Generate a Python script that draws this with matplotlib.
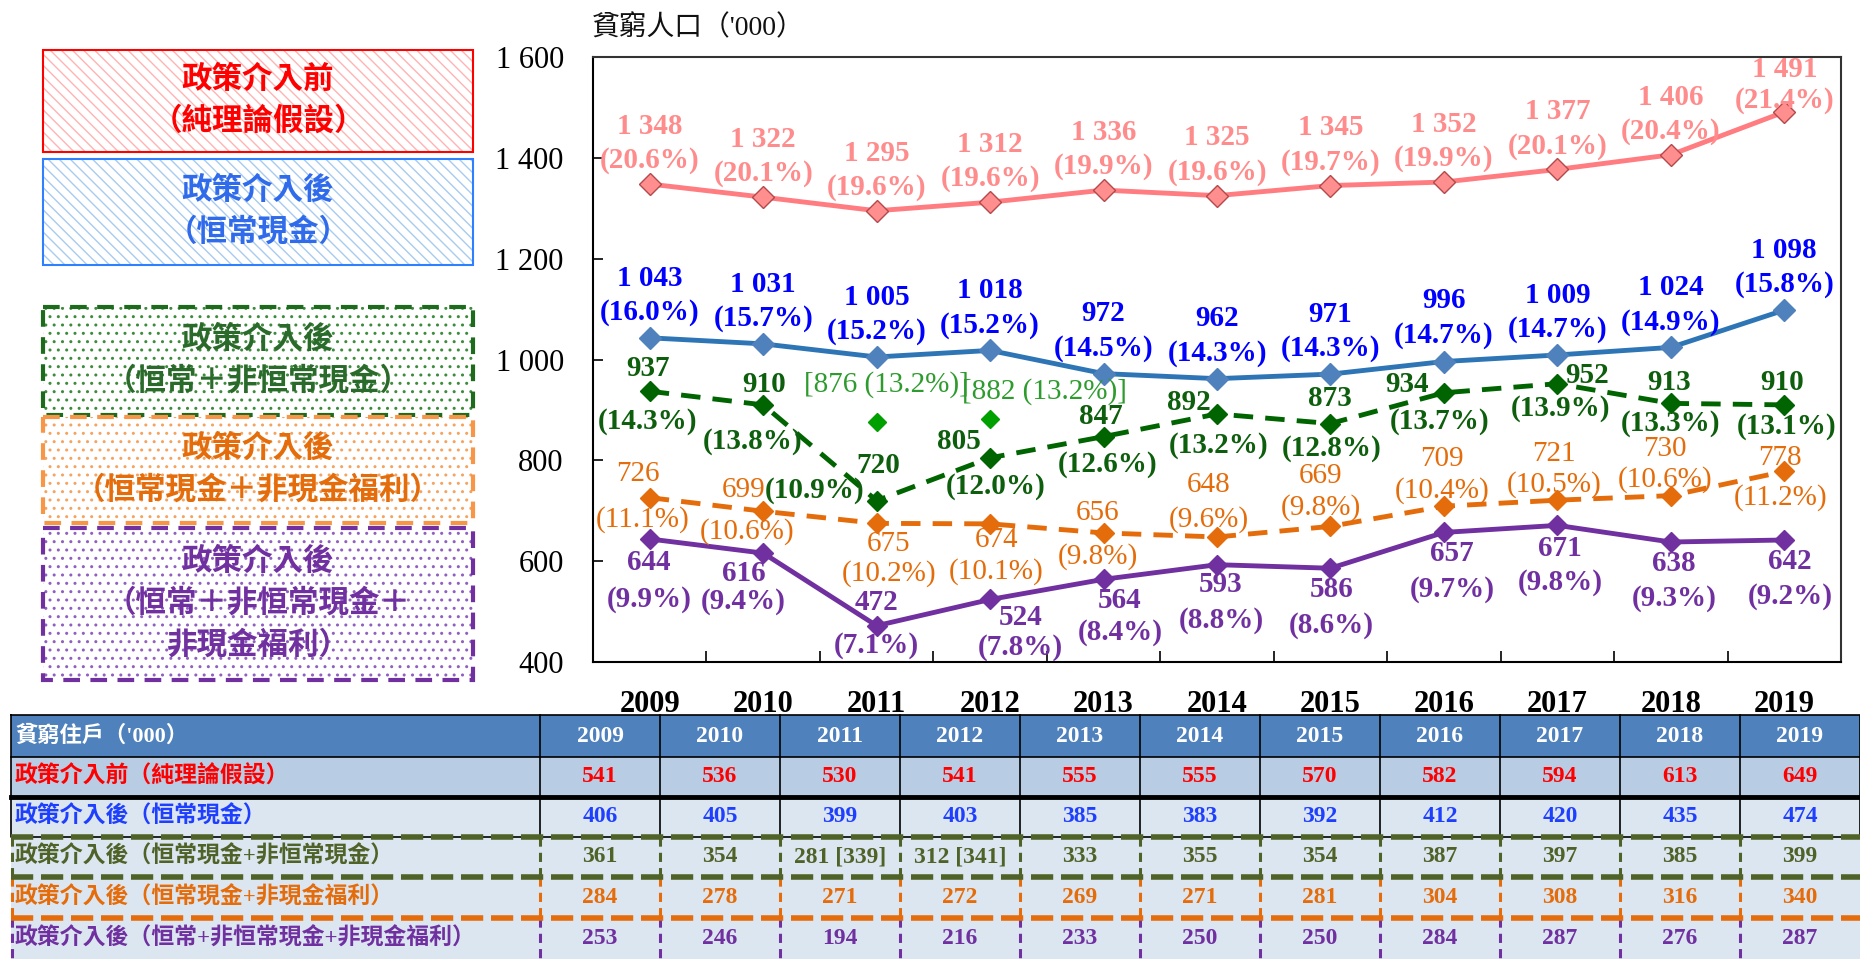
import matplotlib
matplotlib.use('Agg')
import matplotlib.pyplot as plt
from matplotlib.patches import Rectangle
import numpy as np

plt.rcParams['font.family'] = ['Liberation Serif', 'Noto Sans CJK TC']
plt.rcParams['hatch.linewidth'] = 1.0

# ---------------- data ----------------
years = [2009, 2010, 2011, 2012, 2013, 2014, 2015, 2016, 2017, 2018, 2019]

pre_intervention = [1348, 1322, 1295, 1312, 1336, 1325, 1345, 1352, 1377, 1406, 1491]
pre_rate = [20.6, 20.1, 19.6, 19.6, 19.9, 19.6, 19.7, 19.9, 20.1, 20.4, 21.4]

recurrent_cash = [1043, 1031, 1005, 1018, 972, 962, 971, 996, 1009, 1024, 1098]
recurrent_rate = [16.0, 15.7, 15.2, 15.2, 14.5, 14.3, 14.3, 14.7, 14.7, 14.9, 15.8]

all_cash = [937, 910, 720, 805, 847, 892, 873, 934, 952, 913, 910]
all_cash_rate = [14.3, 13.8, 10.9, 12.0, 12.6, 13.2, 12.8, 13.7, 13.9, 13.3, 13.1]

alt_years = [2011, 2012]
alt_all_cash = [876, 882]
alt_all_cash_rate = [13.2, 13.2]

inkind = [726, 699, 675, 674, 656, 648, 669, 709, 721, 730, 778]
inkind_rate = [11.1, 10.6, 10.2, 10.1, 9.8, 9.6, 9.8, 10.4, 10.5, 10.6, 11.2]

all_measures = [644, 616, 472, 524, 564, 593, 586, 657, 671, 638, 642]
all_measures_rate = [9.9, 9.4, 7.1, 7.8, 8.4, 8.8, 8.6, 9.7, 9.8, 9.3, 9.2]

y_ticks = [400, 600, 800, 1000, 1200, 1400, 1600]
axis_title = "貧窮人口（'000）"

legend_texts = [
    ['政策介入前', '（純理論假設）'],
    ['政策介入後', '（恒常現金）'],
    ['政策介入後', '（恒常＋非恒常現金）'],
    ['政策介入後', '（恒常現金＋非現金福利）'],
    ['政策介入後', '（恒常＋非恒常現金＋', '非現金福利）'],
]

table_title = "貧窮住戶（'000）"
table_rows = [
    '政策介入前（純理論假設）',
    '政策介入後（恒常現金）',
    '政策介入後（恒常現金+非恒常現金）',
    '政策介入後（恒常現金+非現金福利）',
    '政策介入後（恒常+非恒常現金+非現金福利）',
]
hh_pre = ['541', '536', '530', '541', '555', '555', '570', '582', '594', '613', '649']
hh_recurrent = ['406', '405', '399', '403', '385', '383', '392', '412', '420', '435', '474']
hh_all_cash = ['361', '354', '281 [339]', '312 [341]', '333', '355', '354', '387', '397', '385', '399']
hh_inkind = ['284', '278', '271', '272', '269', '271', '281', '304', '308', '316', '340']
hh_all = ['253', '246', '194', '216', '233', '250', '250', '284', '287', '276', '287']
hh_table = [hh_pre, hh_recurrent, hh_all_cash, hh_inkind, hh_all]

# ---------------- label offsets (pixels: dx_val, dy_val, dx_pct, dy_pct) ----------------
red_offsets = [(0, 54, 0, 27)] * 10 + [(0, 39, 0, 15)]
blue_offsets = [(0, 56, 0, 29)] * 7 + [(0, 57, 0, 30)] + [(0, 56, 0, 29)] * 3
green_offsets = [(-2, 23, -2, -30), (1, 20, -11, -37), (2, 35, -62, 10), (-31, 16, 6, -29),
                 (-3, 20, 4, -28), (-28, 11, 2, -32), (-1, 25, 1, -25), (-37, 8, -4, -29),
                 (30, 8, 3, -25), (-2, 21, 0, -20), (-2, 22, 2, -22)]
alt_offsets = [(10, 37), (54, 27)]
orange_offsets = [(-12, 24, -7, -22), (-20, 21, -16, -20), (12, -24, 12, -47), (6, -20, 6, -45),
                  (-6, 20, -6, -24), (-8, 49, -8, 20), (-11, 47, -9, 22), (-2, 44, -2, 19),
                  (-3, 43, -3, 19), (-4, 43, -8, 19), (-4, 13, -4, -26)]
purple_offsets = [(-1, -27, -1, -57), (-21, -24, -18, -45), (0, 23, 0, -20), (31, -22, 30, -44),
                  (16, -25, 17, -50), (4, -24, 4, -52), (1, -25, 1, -54), (8, -25, 8, -53),
                  (3, -27, 3, -53), (3, -25, 3, -53), (6, -25, 6, -53)]


def fmt_num(v):
    return f"{v:,}".replace(',', ' ')


W, H = 1860, 959
fig = plt.figure(figsize=(W / 100, H / 100), dpi=100)

bg = fig.add_axes([0, 0, 1, 1])
bg.set_xlim(0, W)
bg.set_ylim(H, 0)
bg.axis('off')

# main axes (pixel box: left 593, right 1841, top 57, bottom 662)
L, R, T, B = 593, 1841, 57, 662
ax = fig.add_axes([L / W, 1 - B / H, (R - L) / W, (B - T) / H])
ax.set_zorder(2)
ax.patch.set_alpha(0)

x = np.arange(len(years))
LABEL_FS = 21
ASCENT_PX = 20.2  # approx. ascent of a label line in pixels at LABEL_FS

series = [
    dict(v=pre_intervention, r=pre_rate, lc='#FF7C80', ls='-', mfc='#FF8F8F', mec='#B5484A', ms=11,
         tc='#FF8C8C', fw='bold', offs=red_offsets),
    dict(v=recurrent_cash, r=recurrent_rate, lc='#2E75B6', ls='-', mfc='#4F81BD', mec='#4F81BD', ms=11,
         tc='#0000FF', fw='bold', offs=blue_offsets),
    dict(v=all_cash, r=all_cash_rate, lc='#006400', ls=(0, (4, 2.5)), mfc='#006400', mec='#006400', ms=10,
         tc='#0D5E0D', fw='bold', offs=green_offsets),
    dict(v=inkind, r=inkind_rate, lc='#E46C0A', ls=(0, (4, 2.5)), mfc='#E46C0A', mec='#E46C0A', ms=10,
         tc='#E46C0A', fw='normal', offs=orange_offsets),
    dict(v=all_measures, r=all_measures_rate, lc='#7030A0', ls='-', mfc='#7030A0', mec='#7030A0', ms=10,
         tc='#7030A0', fw='bold', offs=purple_offsets),
]


def put_label(xi, val, rate, off, color, weight):
    dxv, dyv, dxp, dyp = off
    vtxt, ptxt = fmt_num(val), f"({rate:.1f}%)"
    common = dict(textcoords='offset pixels', ha='center', va='center', fontsize=LABEL_FS,
                  color=color, fontweight=weight, zorder=5)
    if dyv * dyp > 0 and abs(dxv - dxp) <= 6:
        ax.annotate(vtxt + '\n' + ptxt, (xi, val), xytext=((dxv + dxp) / 2, (dyv + dyp) / 2),
                    multialignment='center', linespacing=abs(dyv - dyp) / ASCENT_PX, **common)
    else:
        ax.annotate(vtxt, (xi, val), xytext=(dxv, dyv), **common)
        ax.annotate(ptxt, (xi, val), xytext=(dxp, dyp), **common)


for s in series:
    ax.plot(x, s['v'], color=s['lc'], linestyle=s['ls'], lw=3.5, marker='D', ms=s['ms'],
            mfc=s['mfc'], mec=s['mec'], mew=1.0, zorder=3, clip_on=False)
    for i, (val, rate) in enumerate(zip(s['v'], s['r'])):
        put_label(x[i], val, rate, s['offs'][i], s['tc'], s['fw'])

alt_x = [years.index(yv) for yv in alt_years]
ax.plot(alt_x, alt_all_cash, linestyle='none', marker='D', ms=9, mfc='#00A000', mec='#00A000', zorder=3)
for i, (xx, val, rate) in enumerate(zip(alt_x, alt_all_cash, alt_all_cash_rate)):
    dx, dy = alt_offsets[i]
    ax.annotate(f"[{fmt_num(val)} ({rate:.1f}%)]", (xx, val), xytext=(dx, dy), textcoords='offset pixels',
                ha='center', va='center', fontsize=LABEL_FS, color='#2E9B2E', zorder=5)

ax.set_xlim(-0.5, len(years) - 0.5)
ax.set_ylim(y_ticks[0], y_ticks[-1])
ax.set_yticks(y_ticks)
ax.set_yticklabels([fmt_num(v) for v in y_ticks])
ax.tick_params(axis='y', direction='in', length=7, width=1.2, pad=21, labelsize=22)
ax.set_xticks(x)
ax.set_xticklabels([str(yv) for yv in years], fontweight='bold')
ax.tick_params(axis='x', which='major', length=0, pad=20, labelsize=22)
ax.set_xticks(np.arange(0.5, len(years) - 1, 1), minor=True)
ax.tick_params(axis='x', which='minor', direction='in', length=8, width=1.2)
for sp in ['left', 'bottom']:
    ax.spines[sp].set_linewidth(1.5)
    ax.spines[sp].set_color('black')
for sp in ['top', 'right']:
    ax.spines[sp].set_linewidth(1.5)
    ax.spines[sp].set_color('#333333')

bg.text(592, 28, axis_title, fontsize=20, ha='left', va='center', color='#111111')

# ---------------- legend boxes ----------------
box_x0, box_x1 = 43, 473
box_styles = [
    dict(top=50, bottom=152, tc='#FF0000', border='#FF0000', hatch='\\\\\\', hc='#FFB3B3', ls='-', lw=1.5),
    dict(top=159, bottom=265, tc='#2F6BEA', border='#2F80FF', hatch='\\\\\\', hc='#A8CBF0', ls='-', lw=1.5),
    dict(top=307, bottom=415, tc='#2A6A2A', border='#1E6B1E', hatch='..', hc='#3C8C3C', ls=(0, (4, 2.5)), lw=3),
    dict(top=417, bottom=523, tc='#E46C0A', border='#F79646', hatch='..', hc='#F4A460', ls=(0, (4, 2.5)), lw=3),
    dict(top=528, bottom=680, tc='#7030A0', border='#7030A0', hatch='..', hc='#9060C0', ls=(0, (4, 2.5)), lw=3),
]
for st, lines in zip(box_styles, legend_texts):
    h = st['bottom'] - st['top']
    bg.add_patch(Rectangle((box_x0, st['top']), box_x1 - box_x0, h, facecolor='white',
                           edgecolor=st['hc'], hatch=st['hatch'], lw=0))
    bg.add_patch(Rectangle((box_x0, st['top']), box_x1 - box_x0, h, fill=False,
                           edgecolor=st['border'], lw=st['lw'], linestyle=st['ls']))
    cy = (st['top'] + st['bottom']) / 2
    n = len(lines)
    for k, line in enumerate(lines):
        yy = cy + (k - (n - 1) / 2) * 42
        bg.text((box_x0 + box_x1) / 2, yy, line, fontsize=22, fontweight='bold', color=st['tc'],
                ha='center', va='center')

# ---------------- table ----------------
tab_left, lab_right, col_w = 11, 540, 120
row_y = [715, 757, 797, 837, 877, 918, 959]
row_fills = ['#4F81BD', '#B8CCE4', '#DCE6F1', '#DCE6F1', '#DCE6F1', '#DCE6F1']
row_colors = ['#FF0000', '#1F3FFF', '#4F6228', '#E46C0A', '#7030A0']
col_edges = [lab_right + col_w * i for i in range(len(years) + 1)]

for r in range(6):
    bg.add_patch(Rectangle((tab_left, row_y[r]), W - tab_left, row_y[r + 1] - row_y[r],
                           facecolor=row_fills[r], edgecolor='none'))

bg.plot([tab_left, W, W, tab_left, tab_left], [row_y[0], row_y[0], row_y[3], row_y[3], row_y[0]],
        color='black', lw=1.2)
for xe in [lab_right] + col_edges[1:-1]:
    bg.plot([xe, xe], [row_y[0], row_y[3]], color='black', lw=1.2)
bg.plot([tab_left, W], [row_y[1], row_y[1]], color='black', lw=1.2)
bg.plot([tab_left, W], [row_y[2], row_y[2]], color='black', lw=3.5)

dash = (0, (4, 1.4))
green_c, orange_c, purple_c = '#4F6228', '#E46C0A', '#7030A0'
for xe in [tab_left + 1, lab_right] + col_edges[1:-1]:
    bg.plot([xe, xe], [row_y[3], row_y[4]], color=green_c, lw=2.2, linestyle=(0, (3, 2)))
    bg.plot([xe, xe], [row_y[4], row_y[5]], color=orange_c, lw=2.2, linestyle=(0, (3, 2)))
    bg.plot([xe, xe], [row_y[5], row_y[6]], color=purple_c, lw=2.2, linestyle=(0, (3, 2)))
bg.plot([tab_left, W], [row_y[3], row_y[3]], color=green_c, lw=4, linestyle=dash)
bg.plot([tab_left, W], [row_y[4], row_y[4]], color=green_c, lw=4, linestyle=dash)
bg.plot([tab_left, W], [row_y[5], row_y[5]], color=orange_c, lw=4, linestyle=dash)

hy = (row_y[0] + row_y[1]) / 2
bg.text(tab_left + 4, hy, table_title, fontsize=16, fontweight='bold', color='white', ha='left', va='center')
for i, yv in enumerate(years):
    bg.text(lab_right + col_w * (i + 0.5), hy, str(yv), fontsize=17, fontweight='bold', color='white',
            ha='center', va='center')
for r, (label, vals) in enumerate(zip(table_rows, hh_table)):
    cy = (row_y[r + 1] + row_y[r + 2]) / 2
    bg.text(tab_left + 4, cy, label, fontsize=16.5, fontweight='bold', color=row_colors[r],
            ha='left', va='center')
    for i, v in enumerate(vals):
        bg.text(lab_right + col_w * (i + 0.5), cy, v, fontsize=17, fontweight='bold', color=row_colors[r],
                ha='center', va='center')

fig.savefig('out.png', dpi=100)
